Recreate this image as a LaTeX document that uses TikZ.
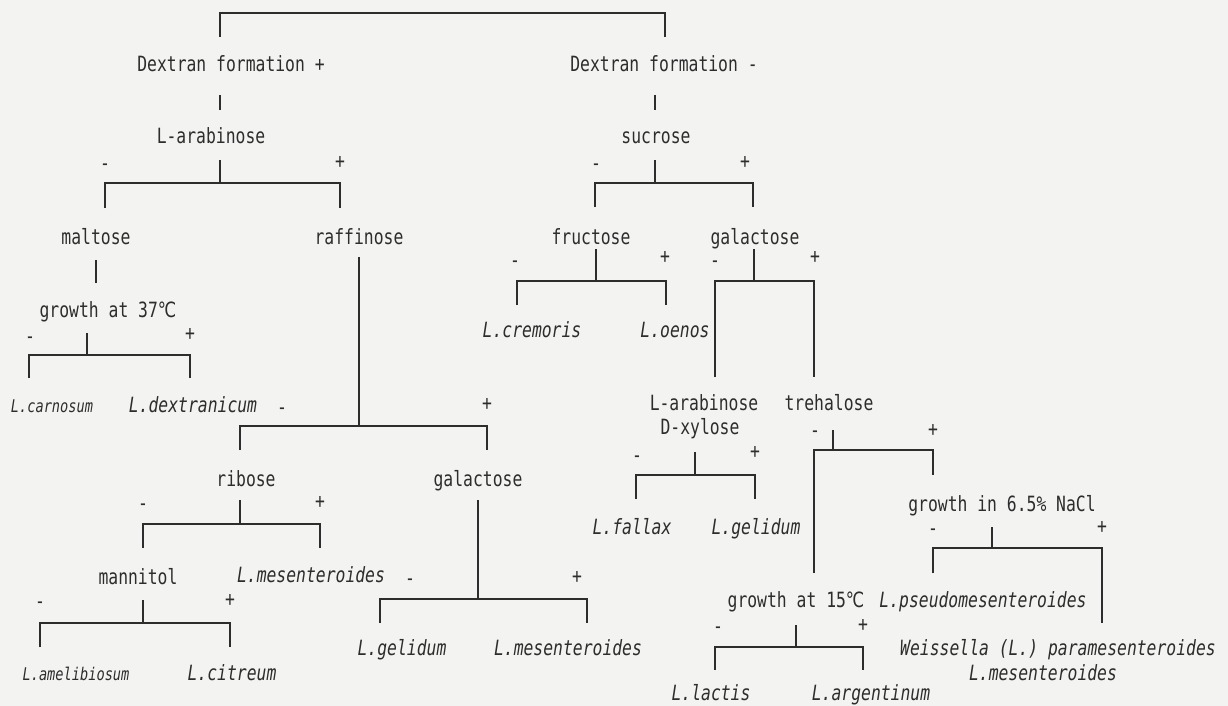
\documentclass[tikz,border=0pt]{standalone}
\usepackage{fontspec}
\newfontfamily\djm{DejaVu Sans Mono}[FakeStretch=0.78]
\newfontfamily\djs{DejaVu Sans}[FakeStretch=0.78]
\definecolor{bg}{RGB}{243,243,242}
\definecolor{ink}{RGB}{45,45,45}
\newcommand\degC{{\djs ℃}}
\newcommand\splitbr[8]{%
  \coordinate (#1-s) at (#2,#3);
  \coordinate (#1-j) at (#2,#4);
  \coordinate (#1-lc) at (#5,#4);
  \coordinate (#1-l) at (#5,#6);
  \coordinate (#1-rc) at (#7,#4);
  \coordinate (#1-r) at (#7,#8);
  \draw[conn] (#1-s) -- (#1-j);
  \draw[conn] (#1-l) -- (#1-lc) -- (#1-rc) -- (#1-r);
}
\tikzset{
  lbl/.style={inner sep=0pt, text height=15pt, text depth=0pt, anchor=center, text=ink,
    font=\djm\fontsize{21}{24}\selectfont},
  sp/.style={lbl, font=\djm\itshape\fontsize{21}{24}\selectfont},
  sps/.style={lbl, font=\djm\itshape\fontsize{17.5}{20}\selectfont},
  sgn/.style={lbl},
  conn/.style={draw=ink, line width=1.3pt}
}
\begin{document}
\begin{tikzpicture}[x=1pt,y=-1pt]
\fill[bg] (0,0) rectangle (1228,706);
\useasboundingbox (0,0) rectangle (1228,706);

% text nodes
\node[lbl] (dexp) at (231,64) {Dextran formation +};
\node[lbl] (dexm) at (664,64) {Dextran formation -};
\node[lbl] (ara1) at (211,136) {L-arabinose};
\node[lbl] (suc) at (656,136) {sucrose};
\node[lbl] (malt) at (96,237) {maltose};
\node[lbl] (raff) at (359,237) {raffinose};
\node[lbl] (fruc) at (591,237) {fructose};
\node[lbl] (galR) at (755,237) {galactose};
\node[lbl] (g37) at (108,310) {growth at 37\degC};
\node[sps] (carn) at (52,405) {L.carnosum};
\node[sp] (dext) at (193,405) {L.dextranicum};
\node[sp] (crem) at (532,330) {L.cremoris};
\node[sp] (oenos) at (675,330) {L.oenos};
\node[lbl] (ara2) at (704,403) {L-arabinose};
\node[lbl] (xyl) at (700,427) {D-xylose};
\node[lbl] (treh) at (829,403) {trehalose};
\node[lbl] (ribose) at (246,479) {ribose};
\node[lbl] (galL) at (478,479) {galactose};
\node[lbl] (nacl) at (1002,504) {growth in 6.5\% NaCl};
\node[sp] (fallax) at (632,527) {L.fallax};
\node[sp] (gelR) at (756,527) {L.gelidum};
\node[lbl] (mann) at (138,577) {mannitol};
\node[sp] (mesA) at (311,575) {L.mesenteroides};
\node[lbl] (g15) at (796,600) {growth at 15\degC};
\node[sp] (pseudo) at (983,600) {L.pseudomesenteroides};
\node[sp] (gelL) at (402,648) {L.gelidum};
\node[sp] (mesB) at (568,648) {L.mesenteroides};
\node[sp] (weiss) at (1058,648) {Weissella (L.) paramesenteroides};
\node[sp] (mesC) at (1043,673) {L.mesenteroides};
\node[sps] (amel) at (76,673) {L.amelibiosum};
\node[sp] (citr) at (232,673) {L.citreum};
\node[sp] (lactis) at (711,693) {L.lactis};
\node[sp] (argent) at (871,693) {L.argentinum};

% sign labels
\node[sgn] (s1m) at (105,163) {-};   \node[sgn] (s1p) at (340,161) {+};
\node[sgn] (s2m) at (596,163) {-};   \node[sgn] (s2p) at (745,161) {+};
\node[sgn] (s3m) at (30,336) {-};    \node[sgn] (s3p) at (190,333) {+};
\node[sgn] (s4m) at (282,407) {-};   \node[sgn] (s4p) at (487,403) {+};
\node[sgn] (s5m) at (143,503) {-};   \node[sgn] (s5p) at (320,501) {+};
\node[sgn] (s6m) at (40,601) {-};    \node[sgn] (s6p) at (230,599) {+};
\node[sgn] (s7m) at (410,578) {-};   \node[sgn] (s7p) at (577,576) {+};
\node[sgn] (s8m) at (515,260) {-};   \node[sgn] (s8p) at (665,256) {+};
\node[sgn] (s9m) at (715,260) {-};   \node[sgn] (s9p) at (815,256) {+};
\node[sgn] (s10m) at (637,455) {-};  \node[sgn] (s10p) at (755,451) {+};
\node[sgn] (s11m) at (815,430) {-};  \node[sgn] (s11p) at (933,429) {+};
\node[sgn] (s12m) at (718,626) {-};  \node[sgn] (s12p) at (863,624) {+};
\node[sgn] (s13m) at (933,528) {-};  \node[sgn] (s13p) at (1102,526) {+};

% top bracket
\coordinate (top-l) at (220,37);
\coordinate (top-lc) at (220,13);
\coordinate (top-rc) at (665,13);
\coordinate (top-r) at (665,37);
\draw[conn] (top-l) -- (top-lc) -- (top-rc) -- (top-r);

% single links
\coordinate (l1a) at (220,95); \coordinate (l1b) at (220,110);
\draw[conn] (l1a) -- (l1b);
\coordinate (l2a) at (655,95); \coordinate (l2b) at (655,110);
\draw[conn] (l2a) -- (l2b);
\coordinate (l3a) at (96,260); \coordinate (l3b) at (96,283);
\draw[conn] (l3a) -- (l3b);

% split brackets: name, stem x, stem top, bar y, xl, yl, xr, yr
\splitbr{b-ara1}{220}{160}{183}{105}{208}{340}{208}
\splitbr{b-suc}{655}{160}{183}{595}{207}{753}{207}
\splitbr{b-g37}{87}{333}{355}{29}{378}{190}{378}
\splitbr{b-raff}{359}{257}{426}{240}{450}{487}{450}
\splitbr{b-rib}{240}{500}{524}{143}{548}{320}{548}
\splitbr{b-mann}{143}{600}{623}{40}{647}{230}{647}
\splitbr{b-galL}{478}{500}{599}{380}{623}{587}{623}
\splitbr{b-fruc}{596}{249}{281}{517}{305}{666}{305}
\splitbr{b-galR}{754}{249}{281}{715}{377}{814}{377}
\splitbr{b-ara2}{695}{452}{475}{636}{499}{755}{499}
\splitbr{b-treh}{833}{430}{450}{814}{573}{933}{475}
\splitbr{b-g15}{796}{625}{647}{715}{670}{863}{670}
\splitbr{b-nacl}{992}{527}{548}{933}{573}{1102}{623}
\end{tikzpicture}
\end{document}
